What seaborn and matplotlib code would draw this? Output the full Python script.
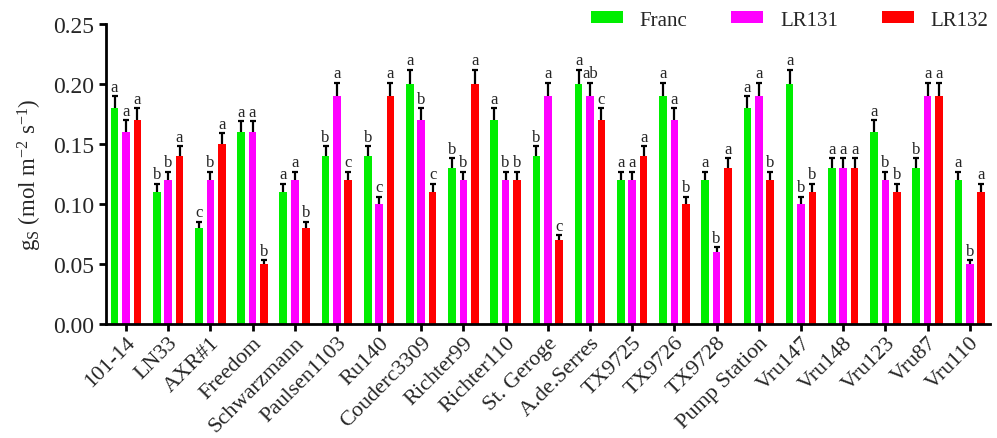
import matplotlib
matplotlib.use("Agg")
import matplotlib.pyplot as plt
import seaborn as sns
import pandas as pd
import numpy as np

cultivars = ["101-14", "LN33", "AXR#1", "Freedom", "Schwarzmann", "Paulsen1103", "Ru140",
             "Couderc3309", "Richter99", "Richter110", "St. Geroge", "A.de.Serres", "TX9725",
             "TX9726", "TX9728", "Pump Station", "Vru147", "Vru148", "Vru123", "Vru87", "Vru110"]
series = ["Franc", "LR131", "LR132"]

franc = [0.18, 0.11, 0.08, 0.16, 0.11, 0.14, 0.14, 0.20, 0.13, 0.17, 0.14, 0.20, 0.12,
         0.19, 0.12, 0.18, 0.20, 0.13, 0.16, 0.13, 0.12]
lr131 = [0.16, 0.12, 0.12, 0.16, 0.12, 0.19, 0.10, 0.17, 0.12, 0.12, 0.19, 0.19, 0.12,
         0.17, 0.06, 0.19, 0.10, 0.13, 0.12, 0.19, 0.05]
lr132 = [0.17, 0.14, 0.15, 0.05, 0.08, 0.12, 0.19, 0.11, 0.20, 0.12, 0.07, 0.17, 0.14,
         0.10, 0.13, 0.12, 0.11, 0.13, 0.11, 0.19, 0.11]

franc_err = [0.010, 0.007, 0.005, 0.009, 0.007, 0.008, 0.008, 0.012, 0.008, 0.010, 0.008, 0.012, 0.007,
             0.011, 0.007, 0.010, 0.012, 0.008, 0.010, 0.008, 0.007]
lr131_err = [0.010, 0.007, 0.007, 0.009, 0.007, 0.011, 0.006, 0.010, 0.007, 0.007, 0.011, 0.011, 0.007,
             0.010, 0.004, 0.011, 0.006, 0.008, 0.007, 0.011, 0.003]
lr132_err = [0.010, 0.008, 0.009, 0.003, 0.005, 0.007, 0.011, 0.007, 0.012, 0.007, 0.004, 0.010, 0.008,
             0.006, 0.008, 0.007, 0.007, 0.008, 0.007, 0.011, 0.007]

franc_let = ["a", "b", "c", "a", "a", "b", "b", "a", "b", "a", "b", "a", "a", "a", "a", "a", "a", "a", "a", "b", "a"]
lr131_let = ["a", "b", "b", "a", "a", "a", "c", "b", "b", "b", "a", "ab", "a", "a", "b", "a", "b", "a", "b", "a", "b"]
lr132_let = ["a", "a", "a", "b", "b", "c", "a", "c", "a", "b", "c", "c", "a", "b", "a", "b", "b", "a", "b", "a", "a"]

colors = ["#00ee00", "#ff00ff", "#ff0000"]

rows = []
for s, vals in zip(series, [franc, lr131, lr132]):
    for c, v in zip(cultivars, vals):
        rows.append({"cultivar": c, "series": s, "gs": v})
df = pd.DataFrame(rows)

sns.set_style("ticks")
plt.rcParams["font.family"] = ["Liberation Serif", "DejaVu Serif"]
plt.rcParams["mathtext.fontset"] = "custom"
plt.rcParams["mathtext.rm"] = "Liberation Serif"
plt.rcParams["mathtext.it"] = "Liberation Serif:italic"

fig = plt.figure(figsize=(9.97, 4.39), dpi=100)
ax = fig.add_axes([0.106, 0.26, 0.887, 0.683])

sns.barplot(data=df, x="cultivar", y="gs", hue="series", order=cultivars, hue_order=series,
            palette=colors, errorbar=None, width=0.81, gap=0.33, saturation=1, ax=ax,
            edgecolor="none", linewidth=0)

errs = [franc_err, lr131_err, lr132_err]
lets = [franc_let, lr131_let, lr132_let]
vals_all = [franc, lr131, lr132]
for cont, e_list, l_list, v_list in zip(ax.containers, errs, lets, vals_all):
    for bar, e, l, v in zip(cont, e_list, l_list, v_list):
        x = bar.get_x() + bar.get_width() / 2
        ax.errorbar(x, v, yerr=[[0], [e]], fmt="none", ecolor="black", elinewidth=1.6, capsize=0)
        ax.plot([x], [v + e], marker="_", markersize=5, markeredgewidth=1.6, color="black")
        ax.text(x, v + e + 0.0012, l, ha="center", va="bottom", fontsize=12)

ax.set_xlim(-0.48, len(cultivars) - 1 + 0.48)
ax.set_ylim(0, 0.25)
ax.set_yticks([0.0, 0.05, 0.10, 0.15, 0.20, 0.25])
ax.set_yticklabels(["0.00", "0.05", "0.10", "0.15", "0.20", "0.25"], fontsize=17)
ax.set_xlabel("")
ax.set_ylabel(r"g$_\mathrm{S}$ (mol m$^{-2}$ s$^{-1}$)", fontsize=16.5, labelpad=7)
ax.set_xticks(range(len(cultivars)))
ax.set_xticklabels(cultivars, rotation=45, ha="right", rotation_mode="anchor", fontsize=16)
for sp in ["top", "right"]:
    ax.spines[sp].set_visible(False)
for sp in ["left", "bottom"]:
    ax.spines[sp].set_linewidth(2)
    ax.spines[sp].set_color("black")
ax.tick_params(axis="y", width=2, length=5, color="black", pad=3)
ax.tick_params(axis="x", width=2, length=5, color="black", pad=1.5)

handles, labels = ax.get_legend_handles_labels()
ax.legend(handles, labels, loc="center left", bbox_to_anchor=(591 / 997, 1 - 21 / 439),
          bbox_transform=fig.transFigure, borderaxespad=0, borderpad=0, ncol=3, frameon=False,
          fontsize=15, handlelength=1.54, handleheight=0.48, columnspacing=2.1, handletextpad=0.8)

fig.savefig("out.png", dpi=100)
